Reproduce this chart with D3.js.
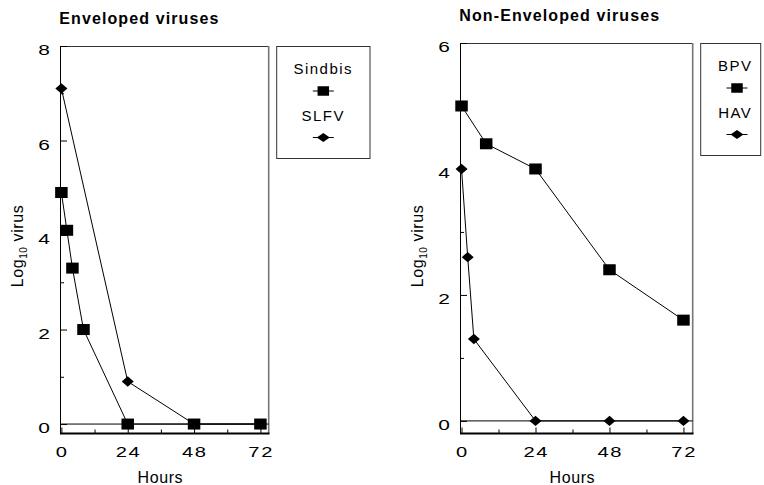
<!DOCTYPE html>
<html><head><meta charset="utf-8">
<script src="https://cdn.jsdelivr.net/npm/d3@7"></script>
<style>
body{margin:0;background:#fff}
svg{display:block}
text{font-family:"Liberation Sans",Arial,Helvetica,sans-serif;fill:#000}
</style>
</head><body>
<svg id="chart" width="764" height="485"></svg>
<script>
// ---- data ----
const xTickValues = [0, 24, 48, 72];
const xMinorValues = [12, 36, 60];
const envYTicks = [0, 2, 4, 6, 8];
const envYMinor = [1, 3, 5, 7];
const nonYTicks = [0, 2, 4, 6];
const nonYMinor = [1, 3, 5];

const sindbisHours = [0, 2, 4, 8, 24, 48, 72];
const sindbisLog   = [4.9, 4.1, 3.3, 2.0, 0, 0, 0];
const slfvHours    = [0, 24, 48, 72];
const slfvLog      = [7.1, 0.9, 0, 0];
const bpvHours     = [0, 8, 24, 48, 72];
const bpvLog       = [5.0, 4.4, 4.0, 2.4, 1.6];
const havHours     = [0, 2, 4, 24, 48, 72];
const havLog       = [4.0, 2.6, 1.3, 0, 0, 0];

const titles = ["Enveloped viruses", "Non-Enveloped viruses"];
const seriesNames = [["Sindbis", "SLFV"], ["BPV", "HAV"]];

// ---- layout ----
const svg = d3.select("#chart");
const panels = [
  { title: titles[0], left: 60, right: 268.7, top: 46, bottom: 433.5, yMax: 8,
    yTicks: envYTicks, yMinor: envYMinor, ylabX: 22.7,
    legend: { x: 276.7, w: 93.3, cx: 323.3, tcx: 322.5 },
    series: [
      { name: seriesNames[0][0], hours: sindbisHours, vals: sindbisLog, shape: "square" },
      { name: seriesNames[0][1], hours: slfvHours, vals: slfvLog, shape: "diamond" } ] },
  { title: titles[1], left: 460, right: 692.7, top: 43, bottom: 433.5, yMax: 6,
    yTicks: nonYTicks, yMinor: nonYMinor, ylabX: 422.7,
    legend: { x: 700.7, w: 60, cx: 737, tcx: 734.5 },
    series: [
      { name: seriesNames[1][0], hours: bpvHours, vals: bpvLog, shape: "square" },
      { name: seriesNames[1][1], hours: havHours, vals: havLog, shape: "diamond" } ] }
];

function marker(g, shape, cx, cy, inLegend) {
  if (shape === "square") {
    const w = inLegend ? 11.5 : 12.5, h = inLegend ? 9.5 : 11;
    g.append("rect").attr("x", cx - w / 2).attr("y", cy - h / 2).attr("width", w).attr("height", h).attr("fill", "#000");
  } else {
    const w = inLegend ? 6.5 : 6, h = inLegend ? 4.5 : 5.2;
    g.append("path").attr("d", `M${cx - w},${cy}L${cx},${cy - h}L${cx + w},${cy}L${cx},${cy + h}Z`).attr("fill", "#000");
  }
}

panels.forEach(p => {
  const x = d3.scaleLinear().domain([-0.5, 75]).range([p.left, p.right]);
  const y = d3.scaleLinear().domain([-0.2, p.yMax]).range([p.bottom, p.top]);
  const g = svg.append("g");

  // title
  g.append("text").attr("x", p.left - 0.7).attr("y", p.top - 22)
    .attr("font-size", 16).attr("font-weight", "bold").attr("letter-spacing", 1.1)
    .text(p.title);

  // frame
  g.append("line").attr("x1", p.left).attr("x2", p.right).attr("y1", p.top + 0.5).attr("y2", p.top + 0.5)
    .attr("stroke", "#333").attr("stroke-width", 1);
  g.append("line").attr("x1", p.right).attr("x2", p.right).attr("y1", p.top).attr("y2", p.bottom)
    .attr("stroke", "#777").attr("stroke-width", 1.6);

  // y axis (ticks inside)
  const yAxis = d3.axisRight(y).tickValues(p.yTicks).tickSize(7).tickFormat("");
  const ya = g.append("g").attr("transform", `translate(${p.left},0)`).call(yAxis);
  ya.select(".domain").remove();
  ya.selectAll("line").attr("stroke", "#000");
  const yMin = d3.axisRight(y).tickValues(p.yMinor).tickSize(4).tickFormat("");
  const ym = g.append("g").attr("transform", `translate(${p.left},0)`).call(yMin);
  ym.select(".domain").remove();
  g.append("line").attr("x1", p.left + 0.5).attr("x2", p.left + 0.5).attr("y1", p.top).attr("y2", p.bottom)
    .attr("stroke", "#000").attr("stroke-width", 1);
  // y labels
  p.yTicks.forEach(v => {
    g.append("text").attr("transform", `translate(${p.left - 10},${y(v) + 9}) scale(1.35,1)`)
      .attr("text-anchor", "end").attr("font-size", 15.5).text(v);
  });

  // x axis (ticks inside, pointing up)
  const xAxis = d3.axisTop(x).tickValues(xTickValues).tickSize(6).tickFormat("");
  const xa = g.append("g").attr("transform", `translate(0,${p.bottom})`).call(xAxis);
  xa.select(".domain").remove();
  const xMin = d3.axisTop(x).tickValues(xMinorValues).tickSize(4).tickFormat("");
  const xm = g.append("g").attr("transform", `translate(0,${p.bottom})`).call(xMin);
  xm.select(".domain").remove();
  g.append("line").attr("x1", p.left).attr("x2", p.right + 0.8).attr("y1", p.bottom).attr("y2", p.bottom)
    .attr("stroke", "#000").attr("stroke-width", 1.8);
  xTickValues.forEach(v => {
    g.append("text").attr("transform", `translate(${x(v) + 0.8},${p.bottom + 23}) scale(1.3,1)`)
      .attr("text-anchor", "middle").attr("font-size", 15.5).attr("letter-spacing", 1.3).text(v);
  });
  g.append("text").attr("x", (p.left + p.right) / 2 - 4).attr("y", 483)
    .attr("text-anchor", "middle").attr("font-size", 16).attr("letter-spacing", 0.6).text("Hours");

  // y label
  const yl = g.append("text").attr("transform", `translate(${p.ylabX},246) rotate(-90)`)
    .attr("text-anchor", "middle").attr("font-size", 16).attr("letter-spacing", 0.6);
  yl.append("tspan").text("Log");
  yl.append("tspan").attr("font-size", 10).attr("dy", 4).text("10");
  yl.append("tspan").attr("dy", -4).text(" virus");

  // zero line
  g.append("line").attr("x1", p.left).attr("x2", p.right).attr("y1", y(0)).attr("y2", y(0))
    .attr("stroke", "#000").attr("stroke-width", 1);

  // series lines
  const line = d3.line().x(d => x(d[0])).y(d => y(d[1]));
  p.series.forEach(s => {
    const pts = s.hours.map((h, i) => [h, s.vals[i]]);
    g.append("path").attr("d", line(pts)).attr("fill", "none").attr("stroke", "#000").attr("stroke-width", 1);
  });
  // markers (diamonds under squares)
  [...p.series].reverse().forEach(s => {
    s.hours.forEach((h, i) => marker(g, s.shape, x(h), y(s.vals[i]), false));
  });

  // legend
  const L = p.legend;
  const lt = p.top;
  g.append("rect").attr("x", L.x).attr("y", lt + 0.5).attr("width", L.w).attr("height", 112)
    .attr("fill", "none").attr("stroke", "#333").attr("stroke-width", 1);
  const rows = [[27.5, 45], [74.5, 91.5]];
  p.series.forEach((s, i) => {
    g.append("text").attr("x", L.tcx + 0.75).attr("y", lt + rows[i][0]).attr("text-anchor", "middle")
      .attr("font-size", 15).attr("letter-spacing", 1.5).text(s.name);
    const sy = lt + rows[i][1];
    g.append("line").attr("x1", L.cx - 10.5).attr("x2", L.cx + 10.5).attr("y1", sy).attr("y2", sy)
      .attr("stroke", "#000").attr("stroke-width", 1);
    marker(g, s.shape, L.cx, sy, true);
  });
});
</script>
</body></html>
